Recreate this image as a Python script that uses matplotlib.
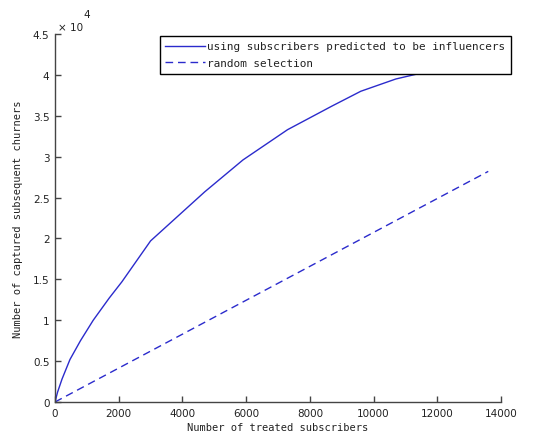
import matplotlib
matplotlib.use('Agg')
from matplotlib import pyplot as plt

# influencer-based selection
treated_infl = [0, 80, 220, 470, 800, 1200, 1700, 2100, 3000, 4700, 5900, 7300, 8700, 9600, 10700, 11800, 13600]
captured_infl = [0, 1200, 2800, 5200, 7500, 10000, 12700, 14700, 19700, 25700, 29600, 33300, 36200, 38000, 39500, 40500, 42000]

# random selection
treated_rand = [0, 13600]
captured_rand = [0, 28200]

xticks = [0, 2000, 4000, 6000, 8000, 10000, 12000, 14000]
yticks = [0, 5000, 10000, 15000, 20000, 25000, 30000, 35000, 40000, 45000]
ytick_labels = ['0', '0.5', '1', '1.5', '2', '2.5', '3', '3.5', '4', '4.5']

line_color = '#2b2bcc'
mono = 'DejaVu Sans Mono'

fig = plt.figure(figsize=(5.53, 4.39), dpi=100)
ax = fig.add_axes([55 / 553, 36 / 439, 446 / 553, 368 / 439])

ax.plot(treated_infl, captured_infl, color=line_color, lw=1.0,
        label='using subscribers predicted to be influencers')
ax.plot(treated_rand, captured_rand, color=line_color, lw=1.0, ls=(0, (5.5, 3.5)),
        label='random selection')

ax.set_xlim(0, 14000)
ax.set_ylim(0, 45000)
ax.set_xticks(xticks)
ax.set_xticklabels([str(t) for t in xticks])
ax.set_yticks(yticks)
ax.set_yticklabels(ytick_labels)

for side in ['top', 'right']:
    ax.spines[side].set_visible(False)
for side in ['left', 'bottom']:
    ax.spines[side].set_color('#444444')
    ax.spines[side].set_linewidth(1.0)

ax.tick_params(direction='in', length=4, width=1, color='#444444',
               labelsize=7.5, labelcolor='#222222', pad=4)

ax.set_xlabel('Number of treated subscribers', family=mono, fontsize=7.5,
              color='#222222', labelpad=3)
ax.set_ylabel('Number of captured subsequent churners', family=mono,
              fontsize=7.5, color='#222222', labelpad=7)

fig.text(58 / 553, 1 - 31 / 439, '\u00d7 10', fontsize=7.5, color='#222222',
         va='baseline', ha='left')
fig.text(83 / 553, 1 - 18 / 439, '4', fontsize=7.5, color='#222222',
         va='baseline', ha='left')

leg = ax.legend(loc='upper left', bbox_to_anchor=(160 / 553, 1 - 37 / 439),
                bbox_transform=fig.transFigure, prop={'family': mono, 'size': 7.9},
                frameon=True, fancybox=False, framealpha=1, edgecolor='black',
                handlelength=3.6, handletextpad=0.2, borderpad=0.5,
                labelspacing=0.6, borderaxespad=0)
leg.get_frame().set_linewidth(1.0)
for t in leg.get_texts():
    t.set_color('#222222')

fig.savefig('out.png', dpi=100)
